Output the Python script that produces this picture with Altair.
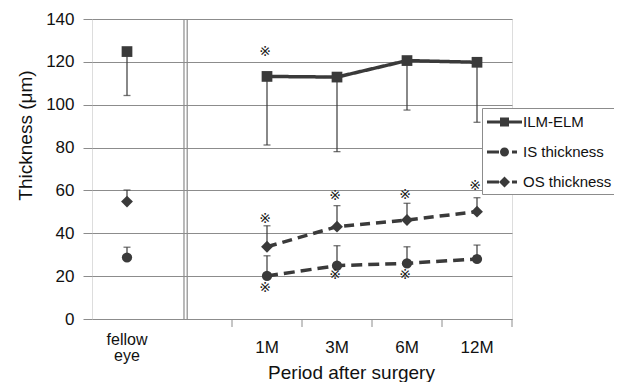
import altair as alt
import pandas as pd

# ---------------- data ----------------
categories = ["fellow eye", " ", "1M", "3M", "6M", "12M"]
periods = ["1M", "3M", "6M", "12M"]
series_names = ["ILM-ELM", "IS thickness", "OS thickness"]

# fellow eye (ILM-ELM, IS, OS)
fellow_mean = [124.8, 28.7, 54.8]
fellow_err = [-20.5, 4.8, 5.4]  # signed bar length: ILM downwards, IS / OS upwards

ilm_mean = [113.2, 112.9, 120.6, 119.8]
ilm_err = [-32.0, -34.8, -23.1, -28.0]
is_mean = [20.1, 24.9, 26.0, 28.0]
is_err = [9.4, 9.3, 7.7, 6.5]
os_mean = [33.7, 43.1, 46.2, 50.1]
os_err = [9.8, 9.8, 7.8, 6.5]

# significance marks (※)
sig_periods = ["1M", "1M", "3M", "6M", "12M", "1M", "3M", "6M"]
sig_values = [124.4, 46.7, 57.4, 57.9, 62.1, 14.3, 20.5, 20.5]

# ---------------- tables ----------------
rows = []
for s, m, e in zip(series_names, fellow_mean, fellow_err):
    rows.append({"cat": "fellow eye", "series": s, "mean": m, "end": m + e, "fellow": True})
for s, means, errs in zip(series_names, [ilm_mean, is_mean, os_mean], [ilm_err, is_err, os_err]):
    for p, m, e in zip(periods, means, errs):
        rows.append({"cat": p, "series": s, "mean": m, "end": m + e, "fellow": False})
df = pd.DataFrame(rows)
sig_df = pd.DataFrame({"cat": sig_periods, "value": sig_values})
tick_df = pd.DataFrame({"cat": periods})
divider_df = pd.DataFrame({"cat": [" "]})

DARK = "#3a3a3a"
GRID = "#8c8c8c"
FONT = "Liberation Sans"

xscale = alt.Scale(type="band", domain=categories, paddingInner=0, paddingOuter=0)
yscale = alt.Scale(domain=[0, 140])

is_fellow = "datum.value == 'fellow eye'"
x_axis = alt.Axis(
    labelExpr=f"{is_fellow} ? ['fellow', 'eye'] : datum.value",
    labelFontSize={"condition": {"test": is_fellow, "value": 16}, "value": 17},
    labelFont=FONT, labelColor="#111", labelBaseline="middle",
    labelLineHeight=16,
    labelPadding={"condition": {"test": is_fellow, "value": 20}, "value": 28},
    ticks=False, tickSize=0, domain=False,
    grid=False, labelAngle=0,
    titleFontSize=19, titleFont=FONT, titleColor="#111", titleFontWeight="normal",
    titleX=259, titleY=59, titleAlign="center", titleBaseline="alphabetic",
)
y_axis = alt.Axis(
    values=[0, 20, 40, 60, 80, 100, 120, 140],
    labelFontSize=17, labelFont=FONT, labelColor="#111", labelPadding=9,
    tickSize=9, tickColor=GRID, tickWidth=1, domain=False,
    grid=True, gridColor=GRID, gridWidth=1, gridOpacity=1,
    titleFontSize=19, titleFont=FONT, titleColor="#111", titleFontWeight="normal",
    titleX=-57, titleY=116, titleAngle=270, titleAlign="center", titleBaseline="bottom",
)

base = alt.Chart(df)

# error bars (drawn first)
err_rule = base.mark_rule(color=DARK, strokeWidth=1.2).encode(
    x=alt.X("cat:N", scale=xscale, axis=x_axis, title="Period after surgery"),
    y=alt.Y("mean:Q", scale=yscale, axis=y_axis, title="Thickness (μm)"),
    y2="end:Q",
)
err_cap = base.mark_tick(color=DARK, size=7, thickness=1.3, orient="horizontal").encode(
    x="cat:N", y="end:Q"
)

layers = [err_rule, err_cap]

# lines (only after surgery)
dash = {"ILM-ELM": [1, 0], "IS thickness": [11, 6], "OS thickness": [10, 6]}
shapes = {"ILM-ELM": ("square", 115), "IS thickness": ("circle", 105), "OS thickness": ("diamond", 140)}
for s in series_names:
    sub = base.transform_filter(alt.datum.series == s)
    layers.append(
        sub.transform_filter("!datum.fellow").mark_line(
            color=DARK, strokeWidth=3.5, strokeDash=dash[s]
        ).encode(x="cat:N", y="mean:Q")
    )
for s in series_names:
    sub = base.transform_filter(alt.datum.series == s)
    shp, sz = shapes[s]
    layers.append(
        sub.mark_point(shape=shp, size=sz, filled=True, color=DARK, opacity=1).encode(
            x="cat:N", y="mean:Q"
        )
    )

# x-axis tick marks at band boundaries
ticks_left = alt.Chart(tick_df).mark_rule(color=GRID, strokeWidth=1).encode(
    x=alt.X("cat:N", bandPosition=0), y=alt.value(300), y2=alt.value(308)
)
ticks_right = alt.Chart(tick_df).transform_filter(alt.datum.cat == periods[-1]).mark_rule(
    color=GRID, strokeWidth=1
).encode(x=alt.X("cat:N", bandPosition=1), y=alt.value(300), y2=alt.value(308))

# double divider line
div1 = alt.Chart(divider_df).mark_rule(color=GRID, strokeWidth=1.2).encode(
    x=alt.X("cat:N", bandPosition=0.314), y=alt.value(0), y2=alt.value(300)
)
div2 = alt.Chart(divider_df).mark_rule(color=GRID, strokeWidth=1.2).encode(
    x=alt.X("cat:N", bandPosition=0.36), y=alt.value(0), y2=alt.value(300)
)

# significance marks
sig = alt.Chart(sig_df).mark_text(
    text="※", font="DejaVu Sans", fontSize=14, color="#222", dx=-2, baseline="middle"
).encode(x="cat:N", y="value:Q")

# legend (custom filled symbols: line with marker, all sub-paths clockwise)
seg = lambda a, b: f"M{a},-0.15L{b},-0.15L{b},0.15L{a},0.15Z"
legend_paths = [
    seg(-0.9, 2.6) + "M0.4,-0.45L1.3,-0.45L1.3,0.45L0.4,0.45Z",
    seg(-0.9, 0.3) + "M0.4,0A0.45,0.45,0,1,1,1.3,0A0.45,0.45,0,1,1,0.4,0Z" + seg(1.6, 2.1),
    seg(-0.9, 0.3) + "M0.85,-0.55L1.4,0L0.85,0.55L0.3,0Z" + seg(1.6, 2.1),
]
legend_layer = base.transform_filter("false").mark_point(
    filled=True, fill=DARK, opacity=1, size=400
).encode(
    x="cat:N", y="mean:Q",
    shape=alt.Shape(
        "series:N",
        scale=alt.Scale(domain=series_names, range=legend_paths),
        legend=alt.Legend(
            title=None, orient="none", legendX=390, legendY=89,
            symbolSize=400, symbolStrokeWidth=0, symbolFillColor=DARK, symbolOpacity=1,
            labelFontSize=15, labelFont=FONT, labelColor="#111", labelOffset=17,
            labelLimit=300, rowPadding=12, padding=4,
            strokeColor=GRID, fillColor="white", cornerRadius=0,
        ),
    ),
)

layers += [ticks_left, ticks_right, div1, div2, sig, legend_layer]

chart = alt.layer(*layers).properties(
    width=420, height=300,
    padding={"left": 84, "top": 11, "right": 102, "bottom": 63},
    autosize=alt.AutoSizeParams(type="none"),
).configure_view(stroke=GRID, strokeWidth=1).configure(background="white")

chart.save("out.html", embed_options={"renderer": "svg", "actions": False})
